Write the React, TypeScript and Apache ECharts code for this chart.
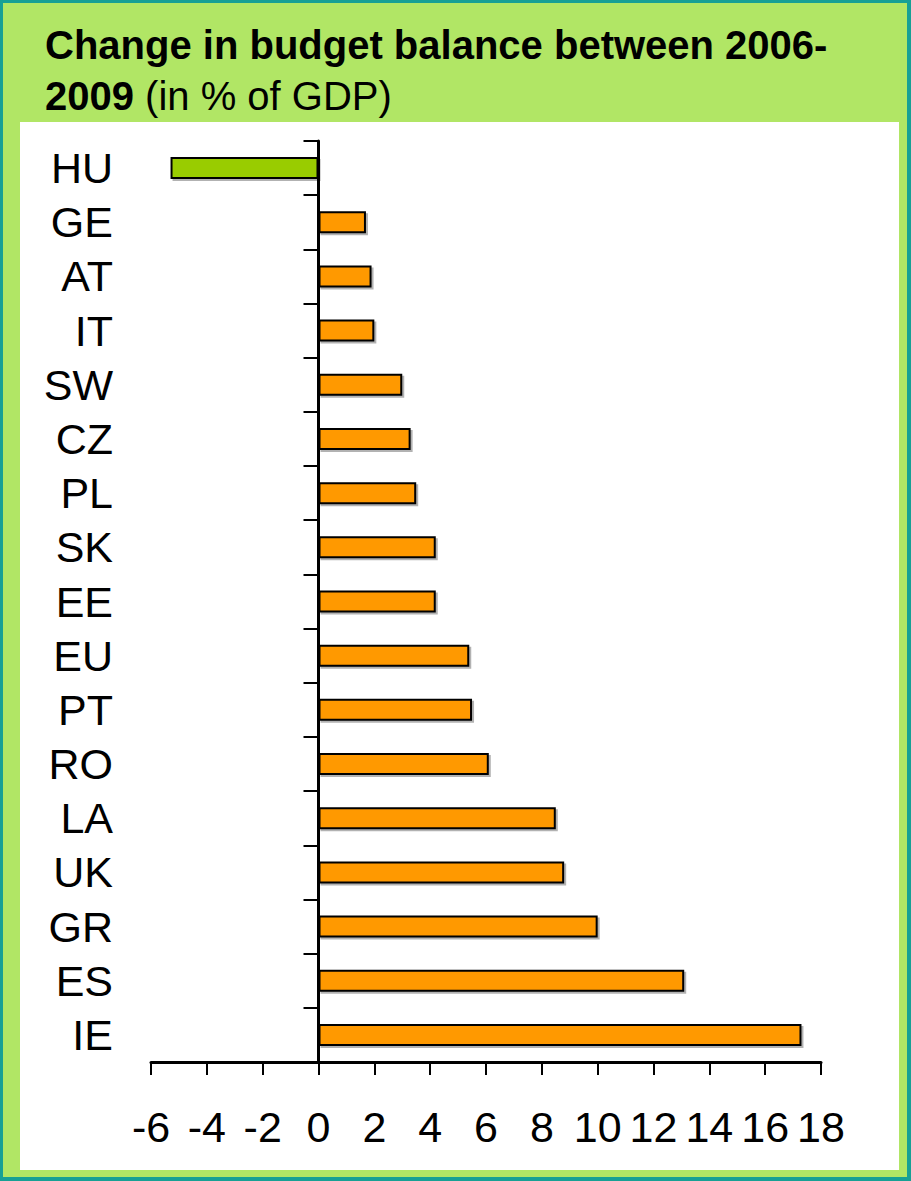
import React, { useEffect, useRef } from "react";
import * as echarts from "echarts";

const countries = ["HU", "GE", "AT", "IT", "SW", "CZ", "PL", "SK", "EE", "EU", "PT", "RO", "LA", "UK", "GR", "ES", "IE"];
const changeValues = [-5.3, 1.7, 1.9, 2.0, 3.0, 3.3, 3.5, 4.2, 4.2, 5.4, 5.5, 6.1, 8.5, 8.8, 10.0, 13.1, 17.3];
const xTicks = { min: -6, max: 18, interval: 2 };
const titleLine1 = "Change in budget balance between 2006-";
const titleLine2Bold = "2009";
const titleLine2Rest = "(in % of GDP)";

const FONT = "'Liberation Sans', Arial, Helvetica, sans-serif";

export default function App() {
  const ref = useRef<HTMLDivElement>(null);
  useEffect(() => {
    if (!ref.current) return;
    const chart = echarts.init(ref.current, null, { renderer: "svg" });
    chart.setOption({
      animation: false,
      textStyle: { fontFamily: FONT },
      grid: { left: 151, right: 90, top: 141, bottom: 119, containLabel: false, outerBoundsMode: "none" },
      xAxis: {
        type: "value",
        min: xTicks.min,
        max: xTicks.max,
        interval: xTicks.interval,
        splitLine: { show: false },
        axisLine: { show: true, onZero: false, lineStyle: { color: "#000", width: 3 } },
        axisTick: { show: true, length: 13, lineStyle: { color: "#000", width: 2 } },
        axisLabel: { fontSize: 43, color: "#000", margin: 43, fontFamily: FONT, hideOverlap: false },
      },
      yAxis: {
        type: "category",
        data: countries,
        inverse: true,
        axisLine: { show: true, onZero: true, lineStyle: { color: "#000", width: 3 } },
        axisTick: { show: true, length: 15, alignWithLabel: false, lineStyle: { color: "#000", width: 2 } },
        axisLabel: { fontSize: 43, color: "#000", margin: 38, fontFamily: FONT, interval: 0 },
        splitLine: { show: false },
      },
      graphic: [
        {
          type: "text",
          left: 45,
          top: 25,
          style: {
            text: titleLine1,
            fontSize: 40,
            fontWeight: "bold",
            fontFamily: FONT,
            fill: "#000",
          },
        },
        {
          type: "text",
          left: 45,
          top: 76,
          style: {
            text: `{b|${titleLine2Bold}} {r|${titleLine2Rest}}`,
            fontSize: 40,
            fontFamily: FONT,
            fill: "#000",
            rich: {
              b: { fontSize: 40, fontWeight: "bold", fontFamily: FONT, fill: "#000" },
              r: { fontSize: 40, fontWeight: "normal", fontFamily: FONT, fill: "#000" },
            },
          },
        },
      ],
      series: [
        {
          type: "bar",
          barWidth: 22,
          data: changeValues.map((v) => ({
            value: v,
            itemStyle: { color: v < 0 ? "#99cc00" : "#ff9900" },
          })),
          itemStyle: {
            borderColor: "#000",
            borderWidth: 2,
            shadowColor: "rgba(0,0,0,0.3)",
            shadowOffsetX: 2,
            shadowOffsetY: 2,
            shadowBlur: 0,
          },
        },
      ],
    });
    return () => chart.dispose();
  }, []);

  return (
    <div style={{ position: "absolute", left: 0, top: 0, width: 911, height: 1181, background: "#17a095" }}>
      <div style={{ position: "absolute", left: 3, top: 3, right: 4, bottom: 4, background: "#b1e665" }} />
      <div style={{ position: "absolute", left: 20, top: 122, width: 879, height: 1048, background: "#ffffff" }} />
      <div ref={ref} style={{ position: "absolute", left: 0, top: 0, width: 911, height: 1181 }} />
    </div>
  );
}
